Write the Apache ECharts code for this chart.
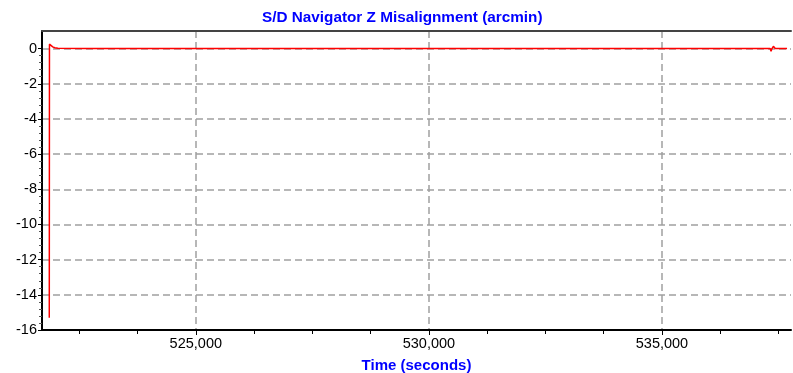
<!DOCTYPE html>
<html>
<head>
<meta charset="utf-8">
<script src="https://cdn.jsdelivr.net/npm/echarts@6/dist/echarts.min.js"></script>
<style>html,body{margin:0;padding:0;background:#fff}#c{width:793px;height:373px}</style>
</head>
<body>
<div id="c"></div>
<script>
var titleText = 'S/D Navigator Z Misalignment (arcmin)';
var xName = 'Time (seconds)';
var timeValues = [521856, 521860, 521885, 521930, 521975, 522040, 522690, 522704, 522718, 523430, 523440, 523450, 524254, 524264, 524274, 525690, 525700, 525730, 525745, 532550, 532560, 532570, 533660, 533670, 533680, 537320, 537340, 537360, 537390, 537410, 537430, 537683];
var misalign = [-15.3, 0.25, 0.2, 0.1, 0.05, 0.02, 0, 0.07, 0, 0, 0.07, 0, 0, 0.07, 0, 0, 0.09, 0.09, 0, 0, 0.07, 0, 0, 0.07, 0, 0, -0.15, 0, 0.13, 0.02, 0, 0];
var xMin = 521700, xMax = 537768;
var yMin = -16, yMax = 1;
var xMajorTicks = [525000, 530000, 535000];
var xMinorTicks = [522500, 523750, 525000, 526250, 527500, 528750, 530000, 531250, 532500, 533750, 535000, 536250, 537500];
var yMajorTicks = [-16, -14, -12, -10, -8, -6, -4, -2, 0];
var yMinorTicks = [];
for (var k = 0; k < yMajorTicks.length - 1; k++) {
  for (var j = 1; j < 5; j++) yMinorTicks.push(+(yMajorTicks[k] + j * 0.4).toFixed(1));
}

var points = timeValues.map(function (t, i) { return [t, misalign[i]]; });
var chart = echarts.init(document.getElementById('c'));
var fmt = function (v) { return String(v).replace(/\B(?=(\d{3})+(?!\d))/g, ','); };
var font = 'Liberation Sans, Arial, sans-serif';
chart.setOption({
  animation: false,
  backgroundColor: '#fff',
  title: {
    text: titleText, left: 262, top: 10, padding: 0,
    textStyle: { color: '#0000ff', fontFamily: font, fontWeight: 'bold', fontSize: 15.3 }
  },
  grid: { left: 42, right: 2, top: 31, bottom: 43, containLabel: false, outerBoundsMode: 'none' },
  xAxis: [
    {
      type: 'value', min: xMin, max: xMax, position: 'bottom',
      name: xName, nameLocation: 'middle', nameGap: 28,
      nameTextStyle: { color: '#0000ff', fontFamily: font, fontWeight: 'bold', fontSize: 15 },
      axisLine: { show: true, onZero: false, lineStyle: { color: '#000', width: 2 } },
      axisTick: { show: true, customValues: xMajorTicks, length: 5, lineStyle: { color: '#000' } },
      axisLabel: { customValues: xMajorTicks, formatter: fmt, color: '#000', fontFamily: font, fontSize: 14.5, margin: 6 },
      splitLine: { show: true, lineStyle: { color: '#a0a0a0', type: [7, 4], width: 1.5 } }
    },
    {
      type: 'value', min: xMin, max: xMax, position: 'bottom',
      axisLine: { show: false, onZero: false },
      axisTick: { show: true, customValues: xMinorTicks, length: 4, lineStyle: { color: '#000' } },
      axisLabel: { show: false },
      splitLine: { show: false }
    },
    {
      type: 'value', min: xMin, max: xMax, position: 'top',
      axisLine: { show: true, onZero: false, lineStyle: { color: '#444', width: 2 } },
      axisTick: { show: false }, axisLabel: { show: false }, splitLine: { show: false }
    }
  ],
  yAxis: [
    {
      type: 'value', min: yMin, max: yMax, position: 'left',
      axisLine: { show: true, onZero: false, lineStyle: { color: '#000', width: 2 } },
      axisTick: { show: true, customValues: yMajorTicks, length: 4, lineStyle: { color: '#000' } },
      axisLabel: { customValues: yMajorTicks, color: '#000', fontFamily: font, fontSize: 14.5, margin: 5 },
      splitLine: { show: true, lineStyle: { color: '#a0a0a0', type: [7, 4], width: 1.5 } }
    },
    {
      type: 'value', min: yMin, max: yMax, position: 'left',
      axisLine: { show: false, onZero: false },
      axisTick: { show: true, customValues: yMinorTicks, length: 3, lineStyle: { color: '#555' } },
      axisLabel: { show: false }, splitLine: { show: false }
    }
  ],
  series: [{
    type: 'line', xAxisIndex: 0, yAxisIndex: 0, data: points,
    showSymbol: false, symbol: 'none',
    lineStyle: { color: '#ff0000', width: 1.5 }
  }]
});
</script>
</body>
</html>
